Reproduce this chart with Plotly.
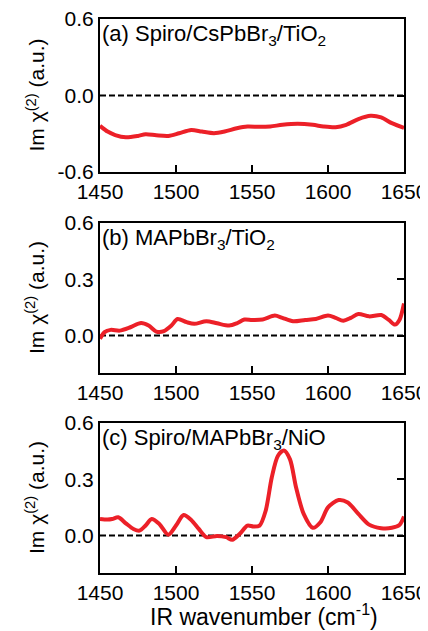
import plotly.graph_objects as go

# ---- data ----
x_a = [1450, 1455, 1460, 1467, 1475, 1480, 1487, 1495, 1502, 1510, 1517, 1525, 1532, 1540,
       1547, 1555, 1562, 1570, 1580, 1590, 1597, 1605, 1612, 1620, 1628, 1635, 1642, 1650]
y_a = [-0.238, -0.283, -0.31, -0.328, -0.317, -0.304, -0.312, -0.317, -0.296, -0.27, -0.283,
       -0.296, -0.283, -0.257, -0.243, -0.246, -0.243, -0.23, -0.222, -0.23, -0.243, -0.249,
       -0.23, -0.185, -0.159, -0.172, -0.217, -0.254]

x_b = [1450, 1453, 1457, 1463, 1470, 1477, 1482, 1487, 1492, 1497, 1501, 1507, 1512, 1520,
       1527, 1535, 1540, 1545, 1550, 1557, 1565, 1570, 1577, 1585, 1592, 1600, 1605, 1610,
       1615, 1620, 1627, 1635, 1640, 1644, 1647, 1650]
y_b = [-0.018, 0.018, 0.03, 0.026, 0.044, 0.067, 0.053, 0.021, 0.023, 0.053, 0.088, 0.071,
       0.062, 0.076, 0.065, 0.053, 0.065, 0.085, 0.083, 0.085, 0.106, 0.094, 0.076, 0.083,
       0.088, 0.106, 0.094, 0.079, 0.094, 0.115, 0.102, 0.109, 0.083, 0.058, 0.083, 0.171]

x_c = [1450, 1455, 1458, 1462, 1467, 1472, 1476, 1480, 1484, 1489, 1495, 1500, 1505, 1510,
       1515, 1520, 1527, 1533, 1537, 1542, 1547, 1551, 1555, 1559, 1563, 1567, 1571, 1575,
       1579, 1584, 1590, 1595, 1600, 1607, 1613, 1620, 1627, 1635, 1642, 1647, 1650]
y_c = [0.088, 0.085, 0.088, 0.097, 0.065, 0.035, 0.026, 0.053, 0.088, 0.062, 0.004, 0.053,
       0.109, 0.083, 0.035, -0.009, -0.002, -0.009, -0.023, 0.009, 0.053, 0.048, 0.053, 0.132,
       0.309, 0.424, 0.453, 0.406, 0.256, 0.115, 0.041, 0.071, 0.15, 0.189, 0.176, 0.115,
       0.058, 0.039, 0.041, 0.056, 0.101]

labels = ["(a) Spiro/CsPbBr<sub>3</sub>/TiO<sub>2</sub>",
          "(b) MAPbBr<sub>3</sub>/TiO<sub>2</sub>",
          "(c) Spiro/MAPbBr<sub>3</sub>/NiO"]
x_ticks = [1450, 1500, 1550, 1600, 1650]
y_ticks_a = [-0.6, 0.0, 0.6]
y_ticklabels_a = ["-0.6", "0.0", "0.6"]
y_ticks_bc = [0.0, 0.3, 0.6]
y_ticklabels_bc = ["0.0", "0.3", "0.6"]
x_range = [1450, 1650]
y_range_a = [-0.6, 0.6]
y_range_bc = [-0.2, 0.6]
y_title = "Im \u03c7<sup>(2)</sup> (a.u.)"
x_title = "IR wavenumber (cm<sup>-1</sup>)"

FONT = "Liberation Sans, Arial, sans-serif"
RED = "rgb(236,32,40)"
OFF = 8  # page body margin in the browser
W, H = 428 - OFF, 631 - OFF
ML, MR, MT, MB = 100 - OFF, 24, 19 - OFF, 58
plot_h = H - MT - MB
plot_w = W - ML - MR

def dom(top_px, bot_px):
    top_px -= OFF
    bot_px -= OFF
    return [(H - MB - bot_px) / plot_h, (H - MB - top_px) / plot_h]

domains = [dom(19, 172), dom(223, 373), dom(423, 573)]

fig = go.Figure()
series = [(x_a, y_a), (x_b, y_b), (x_c, y_c)]
yranges = [y_range_a, y_range_bc, y_range_bc]
yticks = [y_ticks_a, y_ticks_bc, y_ticks_bc]
yticktext = [y_ticklabels_a, y_ticklabels_bc, y_ticklabels_bc]

for i, (xs, ys) in enumerate(series):
    n = i + 1
    xa = "x" if n == 1 else f"x{n}"
    ya = "y" if n == 1 else f"y{n}"
    fig.add_trace(go.Scatter(x=x_range, y=[0, 0], mode="lines", xaxis=xa, yaxis=ya,
                             line=dict(color="black", width=2, dash="6px,3px"),
                             showlegend=False, hoverinfo="skip"))
    fig.add_trace(go.Scatter(x=xs, y=ys, mode="lines", xaxis=xa, yaxis=ya,
                             line=dict(color=RED, width=4, shape="spline", smoothing=0.8),
                             showlegend=False))

axis_common = dict(showgrid=False, zeroline=False, showline=True, linecolor="black",
                   linewidth=2, automargin=False, ticklabeloverflow="allow",
                   tickfont=dict(family=FONT, size=21, color="black"))

layout = dict(width=W, height=H, margin=dict(l=ML, r=MR, t=MT, b=MB, autoexpand=False),
              plot_bgcolor="white", paper_bgcolor="white",
              font=dict(family=FONT, size=21, color="black"), showlegend=False)

for i in range(3):
    n = i + 1
    sfx = "" if n == 1 else str(n)
    layout[f"xaxis{sfx}"] = dict(axis_common, domain=[0, 1], range=x_range,
                                 anchor=f"y{sfx}", tickvals=x_ticks, ticks="inside",
                                 ticklen=7, tickwidth=2, tickcolor="black", mirror=True)
    layout[f"yaxis{sfx}"] = dict(axis_common, domain=domains[i], range=yranges[i],
                                 anchor=f"x{sfx}", tickvals=yticks[i], ticktext=yticktext[i],
                                 ticks="", mirror=True)
    layout[f"yaxis{n + 3}"] = dict(overlaying=f"y{sfx}", side="right", range=yranges[i],
                                   tickvals=yticks[i], ticks="inside", ticklen=7, tickwidth=2,
                                   tickcolor="black", showticklabels=False, showgrid=False,
                                   zeroline=False, showline=False, anchor=f"x{sfx}",
                                   automargin=False)

annotations = []
for i in range(3):
    n = i + 1
    sfx = "" if n == 1 else str(n)
    annotations.append(dict(text=labels[i], xref=f"x{sfx} domain", yref=f"y{sfx} domain",
                            x=0.0, y=1.0, xanchor="left", yanchor="top", showarrow=False,
                            font=dict(family=FONT, size=22, color="black")))
    annotations.append(dict(text=y_title, xref="paper", yref=f"y{sfx} domain",
                            x=(35 - OFF - ML) / plot_w, y=0.5, xanchor="center",
                            yanchor="middle", textangle=-90, showarrow=False,
                            font=dict(family=FONT, size=21, color="black")))
annotations.append(dict(text=x_title, xref="paper", yref="paper",
                        x=(264 - OFF - ML) / plot_w, y=(H - MB - (615 - OFF)) / plot_h,
                        xanchor="center", yanchor="middle", showarrow=False,
                        font=dict(family=FONT, size=23, color="black")))
layout["annotations"] = annotations

fig.update_layout(**layout)

for i in range(3):
    n = i + 1
    sfx = "" if n == 1 else str(n)
    fig.add_trace(go.Scatter(x=[x_range[0]], y=[yranges[i][0]], mode="markers",
                             xaxis=f"x{sfx}", yaxis=f"y{n + 3}",
                             marker=dict(opacity=0), showlegend=False, hoverinfo="skip"))

fig.write_html("out.html")
